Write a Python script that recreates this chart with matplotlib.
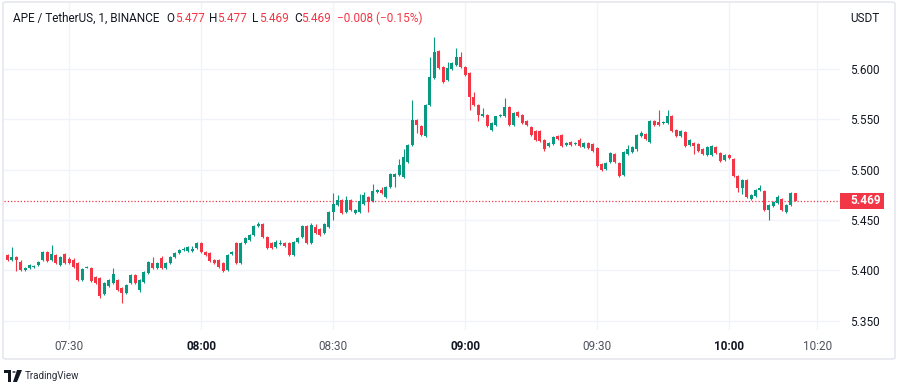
import matplotlib.pyplot as plt
from matplotlib.patches import FancyBboxPatch, Rectangle, Circle, Polygon
import numpy as np

# --- data (1 minute candles, APE/USDT, from 07:16) ---
start_minute = 16  # minutes after 07:00
opens = [
    5.415, 5.410, 5.413, 5.408, 5.400, 5.402, 5.403, 5.405, 5.410, 5.418,
    5.410, 5.415, 5.405, 5.416, 5.411, 5.410, 5.407, 5.390, 5.402, 5.402,
    5.393, 5.392, 5.376, 5.384, 5.387, 5.390, 5.382, 5.377, 5.387, 5.395,
    5.380, 5.388, 5.397, 5.407, 5.402, 5.412, 5.402, 5.407, 5.413, 5.417,
    5.420, 5.419, 5.419, 5.422, 5.427, 5.418, 5.417, 5.410, 5.410, 5.407,
    5.400, 5.416, 5.427, 5.407, 5.427, 5.430, 5.435, 5.444, 5.446, 5.433,
    5.427, 5.423, 5.426, 5.427, 5.427, 5.415, 5.428, 5.433, 5.444, 5.427,
    5.443, 5.441, 5.437, 5.443, 5.458, 5.465, 5.470, 5.458, 5.470, 5.457,
    5.458, 5.466, 5.473, 5.469, 5.478, 5.480, 5.473, 5.483, 5.493, 5.495,
    5.493, 5.508, 5.524, 5.549, 5.543, 5.533, 5.564, 5.591, 5.618, 5.602,
    5.589, 5.600, 5.604, 5.612, 5.602, 5.596, 5.572, 5.564, 5.553, 5.554,
    5.539, 5.544, 5.553, 5.553, 5.562, 5.544, 5.557, 5.554, 5.548, 5.542,
    5.538, 5.538, 5.529, 5.523, 5.525, 5.533, 5.534, 5.524, 5.527, 5.525,
    5.529, 5.522, 5.526, 5.525, 5.521, 5.506, 5.501, 5.508, 5.516, 5.507,
    5.495, 5.516, 5.518, 5.520, 5.533, 5.535, 5.527, 5.548, 5.547, 5.546,
    5.546, 5.553, 5.539, 5.533, 5.537, 5.524, 5.526, 5.525, 5.520, 5.515,
    5.515, 5.522, 5.517, 5.510, 5.515, 5.511, 5.494, 5.482, 5.490, 5.471,
    5.474, 5.480, 5.479, 5.460, 5.464, 5.467, 5.471, 5.458, 5.465, 5.477,
]
highs = [
    5.416, 5.423, 5.414, 5.410, 5.403, 5.406, 5.405, 5.409, 5.419, 5.419,
    5.425, 5.416, 5.414, 5.417, 5.413, 5.412, 5.408, 5.402, 5.404, 5.403,
    5.394, 5.393, 5.388, 5.391, 5.402, 5.391, 5.383, 5.386, 5.396, 5.396,
    5.391, 5.399, 5.409, 5.413, 5.408, 5.414, 5.408, 5.414, 5.418, 5.421,
    5.423, 5.424, 5.424, 5.428, 5.428, 5.419, 5.418, 5.411, 5.411, 5.408,
    5.416, 5.419, 5.428, 5.428, 5.433, 5.436, 5.445, 5.448, 5.447, 5.434,
    5.428, 5.430, 5.430, 5.428, 5.428, 5.429, 5.433, 5.445, 5.445, 5.447,
    5.446, 5.442, 5.447, 5.459, 5.477, 5.475, 5.471, 5.474, 5.471, 5.461,
    5.476, 5.478, 5.474, 5.486, 5.481, 5.483, 5.484, 5.497, 5.497, 5.511,
    5.520, 5.525, 5.569, 5.550, 5.544, 5.565, 5.612, 5.632, 5.619, 5.603,
    5.607, 5.607, 5.621, 5.617, 5.603, 5.597, 5.577, 5.565, 5.561, 5.555,
    5.547, 5.553, 5.555, 5.571, 5.563, 5.557, 5.558, 5.555, 5.549, 5.543,
    5.539, 5.539, 5.530, 5.527, 5.533, 5.534, 5.535, 5.527, 5.528, 5.527,
    5.531, 5.527, 5.527, 5.526, 5.522, 5.507, 5.508, 5.518, 5.517, 5.508,
    5.519, 5.524, 5.523, 5.535, 5.538, 5.536, 5.549, 5.549, 5.559, 5.548,
    5.559, 5.554, 5.540, 5.539, 5.538, 5.530, 5.527, 5.526, 5.521, 5.523,
    5.524, 5.523, 5.518, 5.516, 5.516, 5.512, 5.495, 5.491, 5.491, 5.476,
    5.481, 5.485, 5.480, 5.466, 5.469, 5.475, 5.472, 5.466, 5.478, 5.477,
]
lows = [
    5.409, 5.409, 5.399, 5.399, 5.399, 5.401, 5.402, 5.404, 5.409, 5.408,
    5.409, 5.406, 5.404, 5.406, 5.406, 5.402, 5.389, 5.389, 5.402, 5.388,
    5.386, 5.372, 5.375, 5.383, 5.386, 5.379, 5.367, 5.376, 5.386, 5.386,
    5.378, 5.387, 5.396, 5.401, 5.401, 5.401, 5.401, 5.406, 5.412, 5.416,
    5.419, 5.418, 5.418, 5.421, 5.417, 5.414, 5.408, 5.406, 5.402, 5.398,
    5.399, 5.415, 5.406, 5.406, 5.426, 5.429, 5.434, 5.443, 5.432, 5.421,
    5.421, 5.422, 5.425, 5.423, 5.414, 5.414, 5.427, 5.432, 5.426, 5.426,
    5.436, 5.434, 5.436, 5.442, 5.450, 5.464, 5.456, 5.457, 5.459, 5.456,
    5.457, 5.465, 5.458, 5.468, 5.477, 5.476, 5.472, 5.482, 5.483, 5.494,
    5.492, 5.507, 5.523, 5.536, 5.533, 5.532, 5.563, 5.590, 5.600, 5.586,
    5.588, 5.599, 5.603, 5.601, 5.593, 5.559, 5.563, 5.548, 5.552, 5.542,
    5.538, 5.543, 5.552, 5.552, 5.543, 5.543, 5.552, 5.545, 5.543, 5.533,
    5.528, 5.527, 5.519, 5.522, 5.524, 5.529, 5.522, 5.523, 5.523, 5.524,
    5.522, 5.521, 5.520, 5.518, 5.503, 5.499, 5.500, 5.507, 5.507, 5.493,
    5.494, 5.515, 5.517, 5.519, 5.532, 5.529, 5.526, 5.543, 5.543, 5.545,
    5.545, 5.537, 5.532, 5.532, 5.522, 5.523, 5.516, 5.518, 5.515, 5.514,
    5.514, 5.516, 5.508, 5.509, 5.511, 5.493, 5.478, 5.476, 5.472, 5.470,
    5.473, 5.479, 5.459, 5.450, 5.463, 5.466, 5.459, 5.457, 5.464, 5.469,
]
closes = [
    5.410, 5.413, 5.410, 5.400, 5.402, 5.405, 5.404, 5.408, 5.418, 5.409,
    5.416, 5.407, 5.413, 5.407, 5.407, 5.403, 5.390, 5.401, 5.403, 5.389,
    5.387, 5.374, 5.387, 5.390, 5.396, 5.380, 5.377, 5.385, 5.395, 5.387,
    5.390, 5.398, 5.408, 5.402, 5.407, 5.402, 5.407, 5.413, 5.417, 5.420,
    5.421, 5.423, 5.421, 5.427, 5.418, 5.415, 5.409, 5.407, 5.403, 5.399,
    5.415, 5.418, 5.407, 5.427, 5.432, 5.435, 5.444, 5.446, 5.433, 5.422,
    5.422, 5.428, 5.427, 5.424, 5.415, 5.428, 5.432, 5.444, 5.427, 5.445,
    5.437, 5.435, 5.446, 5.458, 5.466, 5.470, 5.457, 5.470, 5.460, 5.460,
    5.469, 5.475, 5.468, 5.479, 5.480, 5.477, 5.483, 5.496, 5.496, 5.505,
    5.513, 5.524, 5.549, 5.544, 5.534, 5.564, 5.592, 5.617, 5.601, 5.587,
    5.601, 5.606, 5.612, 5.602, 5.594, 5.572, 5.564, 5.554, 5.555, 5.543,
    5.546, 5.553, 5.554, 5.562, 5.544, 5.556, 5.553, 5.546, 5.544, 5.534,
    5.529, 5.528, 5.520, 5.526, 5.532, 5.530, 5.523, 5.526, 5.524, 5.526,
    5.523, 5.526, 5.521, 5.519, 5.504, 5.500, 5.507, 5.517, 5.508, 5.494,
    5.518, 5.520, 5.522, 5.534, 5.536, 5.530, 5.548, 5.544, 5.544, 5.547,
    5.553, 5.538, 5.533, 5.538, 5.523, 5.529, 5.523, 5.519, 5.516, 5.522,
    5.523, 5.517, 5.509, 5.515, 5.512, 5.494, 5.482, 5.490, 5.473, 5.475,
    5.480, 5.482, 5.460, 5.465, 5.468, 5.473, 5.460, 5.465, 5.477, 5.469,
]

time_labels = ['07:30', '08:00', '08:30', '09:00', '09:30', '10:00', '10:20']
price_ticks = [5.350, 5.400, 5.450, 5.500, 5.550, 5.600]
title = 'APE / TetherUS, 1, BINANCE'
ohlc_names = ['O', 'H', 'L', 'C']
ohlc_values = ['5.477', '5.477', '5.469', '5.469']
change_text = '\u22120.008 (\u22120.15%)'

UP = '#089981'
DOWN = '#f23645'
TXT = '#131722'
GRID = '#f0f3fa'
FONT = 'Roboto'
FS = 8.5

W, H = 900, 384
fx = lambda x: x / W
fy = lambda y: 1 - y / H

fig = plt.figure(figsize=(9, 3.84), dpi=100)
fig.patch.set_facecolor('white')
ax = fig.add_axes([fx(4), fy(330), fx(840) - fx(4), fy(3) - fy(330)])

t = start_minute + np.arange(len(closes))
o = np.array(opens)
c = np.array(closes)
hi = np.array(highs)
lo = np.array(lows)
colors = np.where(c >= o, UP, DOWN)

# wicks and bodies
ax.vlines(t, lo, hi, colors=colors, linewidth=0.8, zorder=3)
body = np.maximum(np.abs(c - o), 0.0006)
ax.bar(t, body, bottom=np.minimum(o, c), width=0.7, color=colors, linewidth=0, zorder=4)

ax.set_xlim(15.2, 205.2)
ax.set_ylim(5.3406, 5.6656)

# last price line
ax.axhline(c[-1], color=DOWN, linestyle=(0, (1, 1.6)), linewidth=0.9, zorder=2)

# grid and axes
def to_min(s):
    hh, mm = s.split(':')
    return (int(hh) - 7) * 60 + int(mm)

ax.set_xticks([to_min(s) for s in time_labels])
ax.set_xticklabels(time_labels, fontsize=FS, color=TXT, family=FONT)
for lab in ax.get_xticklabels():
    if lab.get_text().endswith(':00'):
        lab.set_fontweight('bold')
    else:
        lab.set_color('#50535e')
ax.tick_params(axis='x', length=0, pad=7)

ax.yaxis.tick_right()
ax.set_yticks(price_ticks)
ax.set_yticklabels([f'{p:.3f}' for p in price_ticks], fontsize=FS, color=TXT, family=FONT)
ax.tick_params(axis='y', length=0, pad=7.5)

ax.grid(True, color=GRID, linewidth=1, zorder=0)
for s in ax.spines.values():
    s.set_visible(False)

# last price label on price scale
yp_px = H - ax.transData.transform((0, c[-1]))[1]
fig.patches.append(Rectangle((fx(840), fy(yp_px + 8)), fx(884) - fx(840), 16 / H,
                             transform=fig.transFigure, facecolor=DOWN, edgecolor='none'))
fig.text(fx(850), fy(yp_px), f'{c[-1]:.3f}', color='white', fontsize=FS, family=FONT,
         fontweight='bold', va='center', ha='left')

fig.text(fx(850), fy(18), 'USDT', color=TXT, fontsize=FS, family=FONT, va='center', ha='left')

# header
fig.text(fx(13), fy(18), title, color=TXT, fontsize=FS, family=FONT, va='center', ha='left')
name_x = [166, 209, 252, 294]
val_x = [175, 217, 259, 301]
for nm, v, nx, vx in zip(ohlc_names, ohlc_values, name_x, val_x):
    fig.text(fx(nx), fy(18), nm, color=TXT, fontsize=FS, family=FONT, va='center', ha='left')
    fig.text(fx(vx), fy(18), v, color=DOWN, fontsize=FS, family=FONT, va='center', ha='left')
fig.text(fx(337), fy(18), change_text, color=DOWN, fontsize=FS, family=FONT, va='center', ha='left')

# outer frame
fig.patches.append(FancyBboxPatch((fx(3), fy(359)), fx(895) - fx(3), fy(2) - fy(359),
                                  boxstyle='round,pad=0,rounding_size=0.004',
                                  transform=fig.transFigure, facecolor='none',
                                  edgecolor='#e0e3eb', linewidth=1))

# TradingView logo + text
logo = '#131722'
fig.patches.append(Rectangle((fx(4), fy(373)), 7 / W, 3 / H, transform=fig.transFigure,
                             facecolor=logo, edgecolor='none'))
fig.patches.append(Rectangle((fx(8), fy(382)), 3 / W, 12 / H, transform=fig.transFigure,
                             facecolor=logo, edgecolor='none'))
fig.patches.append(Circle((fx(14), fy(372)), 1.7 / W, transform=fig.transFigure,
                          facecolor=logo, edgecolor='none'))
fig.patches.append(Polygon([(fx(17), fy(370)), (fx(22), fy(370)), (fx(17), fy(382)), (fx(13), fy(382))],
                           closed=True, transform=fig.transFigure, facecolor=logo, edgecolor='none'))
fig.text(fx(25), fy(376), 'TradingView', color='#2a2e39', fontsize=7, family=FONT,
         va='center', ha='left')

fig.savefig('out.png', dpi=100, facecolor='white')
